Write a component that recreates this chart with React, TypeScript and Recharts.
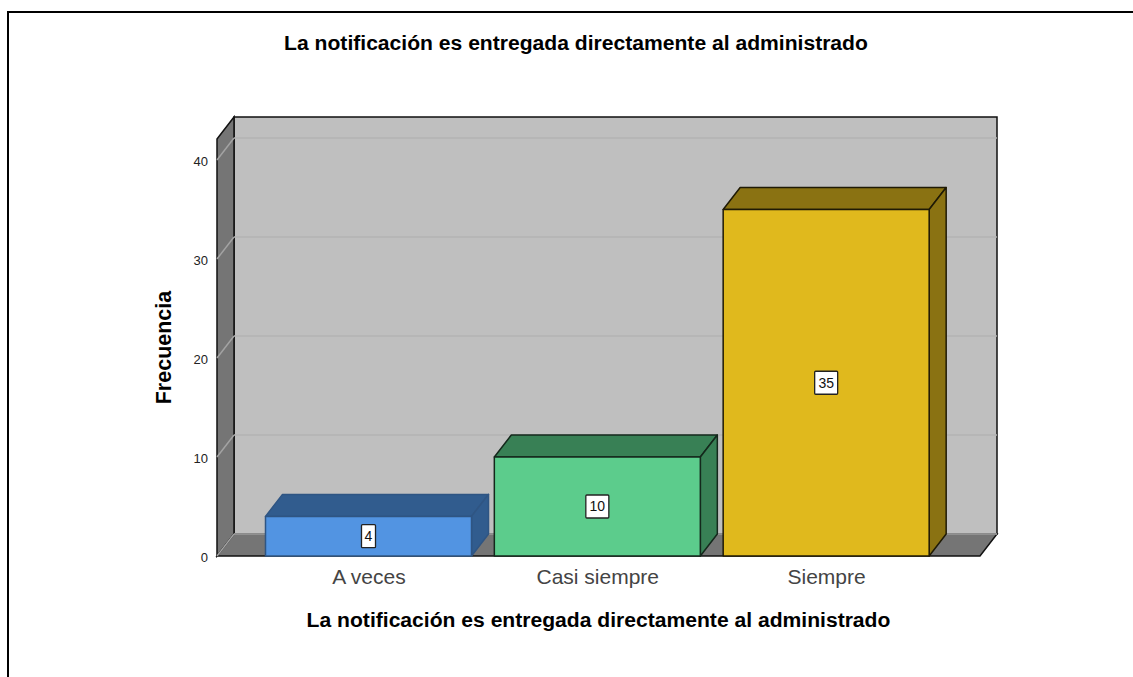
import React from 'react';
import { BarChart, Bar, XAxis, YAxis, ReferenceLine, LabelList, usePlotArea } from 'recharts';

const categories = ['A veces', 'Casi siempre', 'Siempre'];
const frequencies = [4, 10, 35];
const yTicks = [0, 10, 20, 30, 40];
const TITLE = 'La notificación es entregada directamente al administrado';

const FRONT = ['#5294e2', '#5ccc8c', '#e0b91d'];
const SHADE = ['#315c8e', '#388055', '#8a7212'];
const EDGE = ['#2f5583', '#14281c', '#1f1a05'];
const DX = 17;
const DY = 22;
const Y_MAX = 42.12;

const data = categories.map((name, i) => ({ name, value: frequencies[i] }));

// caja 3D: frente + tapa + lateral
const Bar3D = (props: any) => {
  const { x, y, width, height, index } = props;
  const r = x + width;
  const b = y + height;
  const stroke = EDGE[index];
  return (
    <g stroke={stroke} strokeWidth={1.5} strokeLinejoin="round">
      <path d={`M${x},${y} L${x + DX},${y - DY} L${r + DX},${y - DY} L${r},${y} Z`} fill={SHADE[index]} />
      <path d={`M${r},${y} L${r + DX},${y - DY} L${r + DX},${b - DY} L${r},${b} Z`} fill={SHADE[index]} />
      <rect x={x} y={y} width={width} height={height} fill={FRONT[index]} />
    </g>
  );
};

const Walls = () => {
  const plot = usePlotArea();
  if (!plot) return null;
  const { x, y, width, height } = plot;
  const r = x + width;
  const b = y + height;
  return (
    <g>
      <rect x={x + DX} y={y - DY} width={width} height={height} fill="#bfbfbf" stroke="#111" strokeWidth={1.5} />
      <path d={`M${x},${y} L${x + DX},${y - DY} L${x + DX},${b - DY} L${x},${b} Z`} fill="#757575" stroke="#111" strokeWidth={1.5} />
      <path d={`M${x},${b} L${x + DX},${b - DY} L${r + DX},${b - DY} L${r},${b} Z`} fill="#757575" stroke="#111" strokeWidth={1.5} />
    </g>
  );
};

// la y viene de la escala, el ancho del area de trazado
const GridLine3D = (props: any) => {
  const plot = usePlotArea();
  if (!plot) return null;
  const y = props.y1 ?? props.y;
  const left = plot.x;
  const right = plot.x + plot.width;
  return (
    <g fill="none" strokeWidth={1.5}>
      <path d={`M${left},${y} L${left + DX},${y - DY}`} stroke="#a3a3a3" />
      <path d={`M${left + DX},${y - DY} L${right + DX},${y - DY}`} stroke="#b3b3b3" />
    </g>
  );
};

const ValueTag = (props: any) => {
  const { x, y, width, height, value } = props;
  const cx = x + width / 2;
  const cy = y + height / 2;
  const w = String(value).length > 1 ? 23 : 14;
  return (
    <g>
      <rect x={cx - w / 2} y={cy - 11.5} width={w} height={23} rx={1} fill="#fff" stroke="#222" strokeWidth={1.3} />
      <text x={cx} y={cy + 5} textAnchor="middle" fontSize={14} fill="#111" fontFamily="Liberation Sans">{value}</text>
    </g>
  );
};

export default function App() {
  return (
    <div style={{ position: 'absolute', left: 0, top: 0, width: 1133, height: 677, background: '#fff', overflow: 'hidden' }}>
      <div style={{ position: 'absolute', left: 7, top: 11, width: 1133, height: 700, borderTop: '2px solid #000', borderLeft: '2px solid #000' }} />
      <div style={{ position: 'absolute', left: 0, top: 0 }}>
        <BarChart
          width={1133}
          height={677}
          data={data}
          margin={{ top: 139, right: 153, bottom: 0, left: 150 }}
          barSize={206}
          style={{ fontFamily: 'Liberation Sans' }}
        >
          <Walls />
          <XAxis
            dataKey="name"
            height={121}
            axisLine={false}
            tickLine={false}
            padding={{ left: 37.5, right: 39 }}
            tickMargin={7}
            tick={{ fontSize: 21, fill: '#444' }}
            label={{ value: TITLE, position: 'insideTop', offset: 56, fontSize: 21.1, fontWeight: 700, fill: '#000' }}
          />
          <YAxis
            width={67}
            domain={[0, Y_MAX]}
            ticks={yTicks}
            axisLine={false}
            tickLine={false}
            tickMargin={3}
            tick={{ fontSize: 13, fill: '#222', dy: 1 }}
            label={{ value: 'Frecuencia', angle: -90, position: 'center', dx: -20, fontSize: 21.5, fontWeight: 700, fill: '#000' }}
          />
          {yTicks.map((t) => (
            <ReferenceLine key={t} y={t} ifOverflow="visible" zIndex={100} shape={<GridLine3D />} />
          ))}
          <Bar dataKey="value" isAnimationActive={false} shape={<Bar3D />}>
            <LabelList dataKey="value" content={<ValueTag />} />
          </Bar>
          <text x={576} y={50} textAnchor="middle" fontSize={21.1} fontWeight={700} fill="#000">{TITLE}</text>
        </BarChart>
      </div>
    </div>
  );
}
